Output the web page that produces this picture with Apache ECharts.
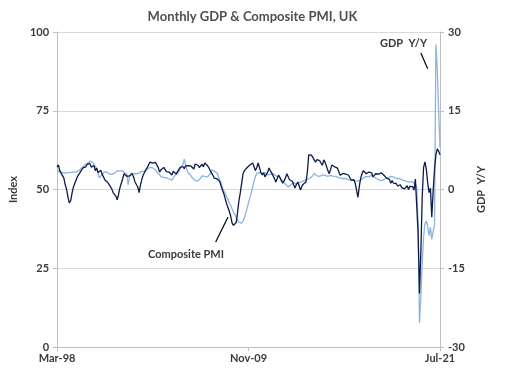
<!DOCTYPE html>
<html>
<head>
<meta charset="utf-8">
<script src="https://cdn.jsdelivr.net/npm/echarts@6/dist/echarts.min.js"></script>
<style>html,body{margin:0;padding:0;background:#fff}#c{width:505px;height:380px}</style>
</head>
<body>
<div id="c"></div>
<script>
// Monthly, Mar-1998 .. Jul-2021
var monthNames = ['Jan','Feb','Mar','Apr','May','Jun','Jul','Aug','Sep','Oct','Nov','Dec'];
var startYear = 1998, startMonth = 2, monthCount = 281;
var shownTickLabels = ['Mar-98', 'Nov-09', 'Jul-21'];

// Composite PMI (left axis, index)
var pmi = [
  57.1, 57.8, 56.0, 55.2, 54.4, 53.6, 51.5, 50.0, 47.6, 45.7,
  46.5, 48.9, 50.8, 52.0, 53.1, 54.2, 54.8, 55.5, 56.0, 56.9, 57.4, 57.2,
  58.0, 57.4, 58.3, 57.1, 56.5, 57.6, 56.0, 56.8, 55.4, 55.0, 56.1, 54.8,
  54.0, 53.0, 53.4, 52.3, 51.6, 51.0, 50.2, 49.0, 48.6, 47.9, 46.7, 48.5,
  50.6, 52.0, 53.4, 55.0, 54.6, 54.2, 53.6, 54.3, 54.8, 55.0, 53.9, 52.4,
  52.4, 50.8, 49.0, 51.4, 53.2, 54.6, 55.5, 56.3, 57.0, 57.9, 58.7, 59.2,
  58.4, 59.0, 58.6, 58.0, 56.9, 55.5, 56.3, 55.8, 57.0, 56.4, 55.7, 56.2,
  55.5, 55.0, 54.6, 55.8, 55.6, 54.9, 55.6, 56.1, 57.0, 56.5, 57.3, 56.6,
  57.5, 58.0, 57.6, 58.2, 57.4, 57.0, 56.5, 58.1, 58.4, 57.7, 57.0, 57.5,
  58.0, 57.2, 58.4, 58.0, 57.6, 56.9, 56.0, 55.8, 54.5, 53.6, 54.1, 53.4,
  53.0, 52.5, 51.0, 50.4, 48.6, 47.0, 45.5, 44.3, 43.0, 41.5, 39.3, 38.6,
  38.0, 39.5, 42.8, 46.5, 49.0, 52.0, 55.0, 56.0, 56.4, 57.0, 57.4, 57.8,
  57.8, 58.4, 57.3, 56.0, 56.9, 58.4, 57.0, 55.4, 54.6, 55.3, 54.0, 54.8,
  55.5, 56.8, 55.9, 55.2, 54.6, 53.4, 52.4, 53.5, 54.6, 53.8, 52.8, 52.0,
  52.0, 53.6, 55.0, 54.4, 53.1, 53.6, 52.6, 51.5, 50.5, 51.6, 52.4, 51.2,
  49.8, 51.0, 51.7, 52.0, 52.4, 55.4, 61.0, 61.6, 60.9, 60.2, 59.6, 58.7,
  59.5, 58.9, 59.2, 58.4, 57.7, 59.4, 58.6, 57.4, 56.0, 55.0, 56.4, 57.8,
  57.8, 57.2, 56.6, 56.8, 55.6, 54.5, 54.0, 55.1, 55.6, 54.9, 55.3, 54.6,
  53.8, 53.0, 52.4, 53.1, 52.0, 52.3, 47.5, 51.0, 53.6, 55.0, 56.0, 55.5,
  55.0, 54.6, 55.5, 56.0, 55.3, 54.0, 54.6, 55.0, 55.6, 54.9, 54.6, 55.3,
  55.0, 54.5, 55.0, 53.6, 53.9, 53.2, 52.0, 52.8, 52.0, 51.4, 51.9, 51.1,
  50.8, 51.5, 50.6, 50.9, 50.2, 50.5, 51.2, 50.0, 51.0, 50.4, 50.9, 49.8,
  53.3, 53.0, 36.0, 17.0, 30.0, 47.7, 57.0, 58.8, 56.5, 52.1, 49.0, 50.4,
  41.2, 49.6, 56.4, 61.0, 62.9, 62.2, 61.0
];

// GDP Y/Y % (right axis)
var gdp = [
  3.7, 3.5, 3.3, 3.4, 3.2, 3.3, 3.1, 3.4, 3.2, 3.0,
  3.2, 3.1, 3.3, 3.0, 3.3, 3.5, 3.6, 3.8, 4.1, 4.3, 4.6, 4.8,
  5.0, 5.3, 5.4, 5.6, 5.2, 4.8, 5.0, 4.0, 3.0, 2.2, 2.6, 2.9,
  3.2, 3.1, 3.4, 3.2, 3.0, 3.3, 2.9, 2.8, 3.1, 3.4, 3.6, 3.7,
  3.5, 3.3, 3.6, 3.2, 3.1, 3.0, 0.9, 2.6, 3.1, 3.3, 3.0, 3.2,
  3.0, 3.1, 3.1, 3.3, 3.5, 3.6, 3.4, 3.7, 3.9, 4.0, 4.2, 4.3,
  4.1, 3.9, 3.7, 3.3, 3.0, 2.8, 2.4, 2.6, 2.3, 2.5, 2.2, 2.2,
  2.0, 1.9, 1.8, 2.2, 2.6, 2.8, 3.0, 3.4, 3.9, 4.1, 4.8, 5.8,
  4.6, 3.7, 3.2, 2.9, 2.6, 2.2, 2.0, 1.7, 1.4, 1.6, 1.9, 2.2,
  2.6, 2.8, 2.5, 2.7, 2.4, 2.6, 3.0, 3.7, 3.4, 3.5, 3.3, 3.1,
  2.4, 1.8, 1.2, 0.3, -0.3, -0.8, -1.4, -1.9, -2.6, -3.0, -3.7, -4.3,
  -4.8, -5.3, -5.8, -6.2, -6.5, -6.4, -6.0, -5.4, -4.4, -3.6, -2.5, -1.5,
  -0.7, 0.5, 1.6, 2.4, 3.1, 3.0, 3.2, 3.3, 3.1, 3.4, 3.2, 3.1,
  2.8, 3.0, 2.9, 3.1, 3.0, 2.8, 2.6, 2.5, 2.4, 2.2, 1.9, 1.6,
  1.4, 1.0, 0.7, 0.5, 0.8, 0.9, 1.0, 1.3, 1.1, 1.0, 1.2, 1.3,
  1.4, 1.5, 1.6, 1.7, 1.8, 1.9, 2.0, 2.2, 2.3, 2.6, 3.1, 2.8,
  2.6, 2.4, 2.5, 2.7, 2.8, 2.9, 2.7, 2.6, 2.5, 2.6, 2.7, 2.6,
  2.5, 2.4, 2.5, 2.3, 2.2, 2.3, 2.1, 2.0, 2.1, 1.9, 2.0, 1.8,
  1.8, 1.7, 1.8, 1.6, 1.7, 1.5, 1.6, 1.7, 1.8, 2.0, 2.2, 2.4,
  2.5, 2.6, 2.4, 2.6, 2.7, 2.5, 2.3, 2.2, 2.0, 1.9, 1.8, 1.8,
  1.7, 1.9, 2.1, 2.3, 2.2, 2.4, 2.5, 2.3, 2.4, 2.2, 2.1, 2.3,
  2.1, 2.0, 1.9, 1.8, 1.7, 1.6, 1.5, 1.6, 1.4, 1.3, 1.5, 1.4,
  1.0, 0.4, -6.5, -25.4, -20.5, -14.0, -9.0, -6.5, -6.0, -7.0, -8.8, -7.2,
  -9.5, -8.0, -6.8, 27.6, 23.0, 15.0, 8.0
];

var categories = [];
for (var k = 0; k < monthCount; k++) {
  var m = (startMonth + k) % 12;
  var y = startYear + Math.floor((startMonth + k) / 12);
  categories.push(monthNames[m] + '-' + String(y).slice(2));
}

var font = 'Lato, "DejaVu Sans", sans-serif';
var txt = '#3a3a3a';
var axisGray = '#bfbfbf';

function showTick(idx, val) { return shownTickLabels.indexOf(val) >= 0; }

var chart = echarts.init(document.getElementById('c'), null, {renderer: 'canvas'});
chart.setOption({
  animation: false,
  backgroundColor: '#ffffff',
  title: {
    text: 'Monthly GDP & Composite PMI, UK',
    left: 'center', top: 5,
    textStyle: {fontFamily: font, fontSize: 13, fontWeight: 'bold', color: '#505050'}
  },
  grid: {left: 55, right: 65, top: 32, bottom: 33},
  xAxis: {
    type: 'category',
    data: categories,
    boundaryGap: false,
    axisLine: {lineStyle: {color: axisGray, width: 1}},
    axisTick: {show: true, interval: showTick, length: 4, lineStyle: {color: axisGray}},
    axisLabel: {interval: showTick, color: txt, fontFamily: font, fontSize: 11, fontWeight: 'bold', margin: 6}
  },
  yAxis: [
    {
      type: 'value', min: 0, max: 100, interval: 25,
      name: 'Index', nameLocation: 'middle', nameGap: 30, nameRotate: 90,
      nameTextStyle: {color: txt, fontFamily: font, fontSize: 11, fontWeight: 'bold'},
      axisLine: {show: true, lineStyle: {color: axisGray}},
      axisTick: {show: true, length: 4, lineStyle: {color: axisGray}},
      axisLabel: {color: txt, fontFamily: font, fontSize: 11, fontWeight: 'bold', margin: 8},
      splitLine: {lineStyle: {color: '#d9d9d9', width: 1}}
    },
    {
      type: 'value', min: -30, max: 30, interval: 15,
      name: 'GDP  Y/Y', nameLocation: 'middle', nameGap: 33, nameRotate: 90,
      nameTextStyle: {color: txt, fontFamily: font, fontSize: 11, fontWeight: 'bold'},
      axisLine: {show: true, lineStyle: {color: axisGray}},
      axisTick: {show: true, length: 4, lineStyle: {color: axisGray}},
      axisLabel: {color: txt, fontFamily: font, fontSize: 11, fontWeight: 'bold', margin: 8},
      splitLine: {show: false}
    }
  ],
  series: [
    {
      name: 'GDP Y/Y', type: 'line', yAxisIndex: 1, data: gdp,
      showSymbol: false, symbol: 'none',
      lineStyle: {color: '#8db3df', width: 1.3},
      z: 2,
      markLine: {
        silent: true, symbol: ['none', 'arrow'], symbolSize: [0, 7],
        lineStyle: {color: '#000', width: 1.2, type: 'solid'},
        label: {show: false},
        data: [[{coord: [265.5, 26]}, {coord: [271, 23]}]]
      }
    },
    {
      name: 'Composite PMI', type: 'line', yAxisIndex: 0, data: pmi,
      showSymbol: false, symbol: 'none',
      lineStyle: {color: '#0e1a48', width: 1.3},
      z: 3,
      markLine: {
        silent: true, symbol: ['none', 'arrow'], symbolSize: [0, 7],
        lineStyle: {color: '#000', width: 1.2, type: 'solid'},
        label: {show: false},
        data: [[{coord: [116, 33.3]}, {coord: [125, 41.3]}]]
      }
    }
  ],
  graphic: [
    {type: 'text', left: 380, top: 38, style: {text: 'GDP  Y/Y', fill: txt, font: 'bold 11px ' + font}},
    {type: 'text', left: 148, top: 249, style: {text: 'Composite PMI', fill: txt, font: 'bold 11px ' + font}}
  ]
});
</script>
</body>
</html>
